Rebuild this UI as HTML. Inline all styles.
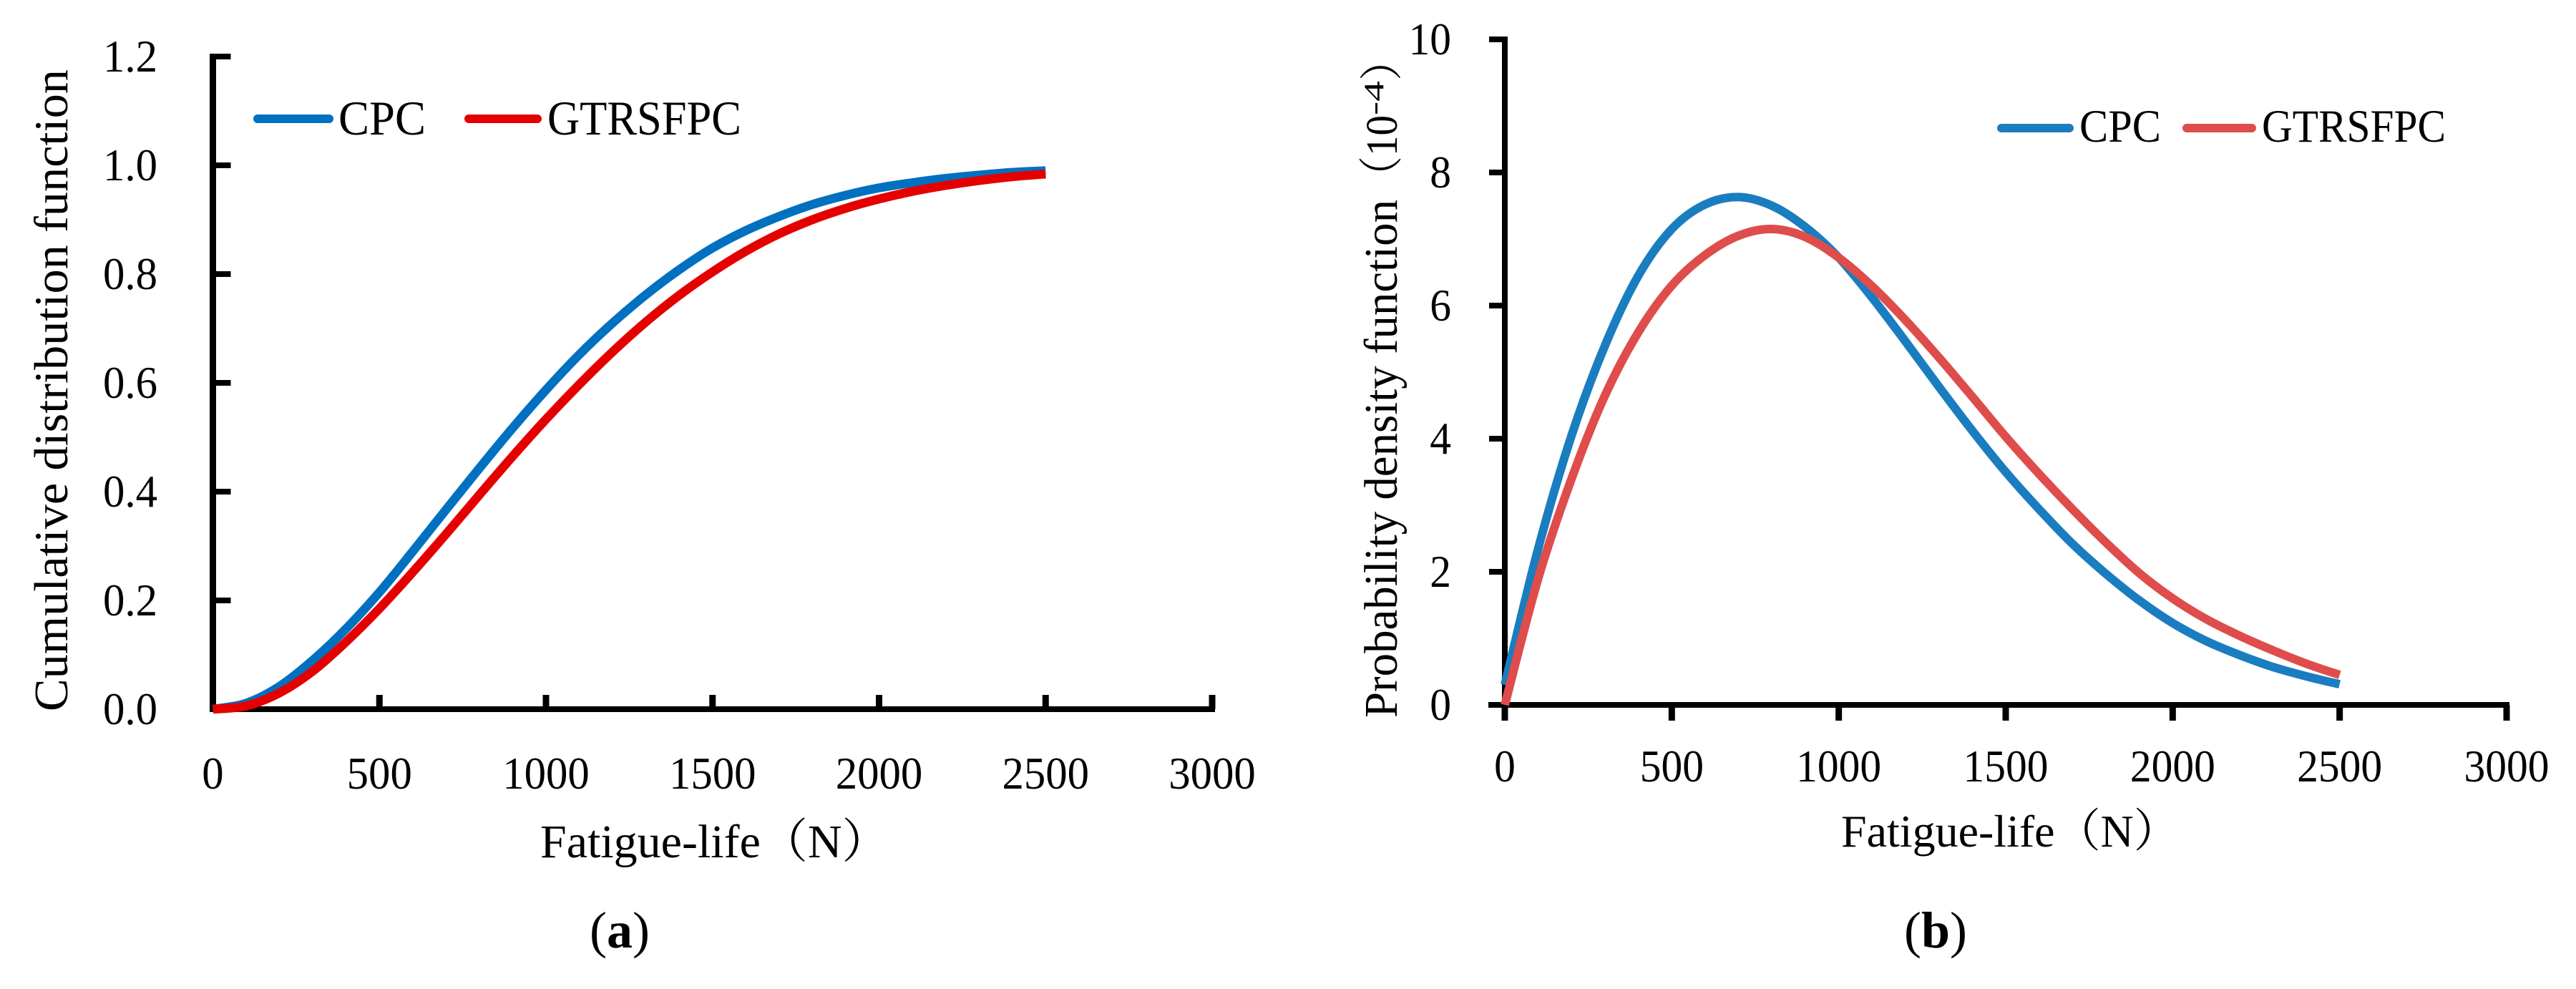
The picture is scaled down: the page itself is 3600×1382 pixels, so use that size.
<!DOCTYPE html>
<html lang="en">
<head>
<meta charset="utf-8">
<title>CPC and GTRSFPC fatigue-life distribution</title>
<style>
html,body{margin:0;padding:0;background:#fff;width:3600px;height:1382px;overflow:hidden}
svg{display:block}
text{font-family:"Liberation Serif","Noto Serif CJK SC",serif;fill:#000}
</style>
</head>
<body>
<svg id="figure" xmlns="http://www.w3.org/2000/svg" width="3600" height="1382" viewBox="0 0 3600 1382">
  <rect width="3600" height="1382" fill="#fff"/>

  <g id="chart-a"></g>
  <g id="chart-b"></g>

  <text x="0" y="0" transform="translate(94,994) rotate(-90)" font-size="67" textLength="897" lengthAdjust="spacingAndGlyphs">Cumulative distribution function</text>
  <text x="755" y="1198" font-size="66">Fatigue-life（N）</text>
  <text x="824" y="1324" font-size="72">(<tspan font-weight="bold">a</tspan>)</text>

  <line x1="360" y1="166" x2="460" y2="166" stroke="#0070C0" stroke-width="12" stroke-linecap="round"/>
  <text x="473" y="188" font-size="68" textLength="122" lengthAdjust="spacingAndGlyphs">CPC</text>
  <line x1="655" y1="166" x2="751" y2="166" stroke="#E50000" stroke-width="12" stroke-linecap="round"/>
  <text x="765" y="188" font-size="68" textLength="271" lengthAdjust="spacingAndGlyphs">GTRSFPC</text>

  <text x="0" y="0" transform="translate(1952,1003) rotate(-90)" font-size="66" textLength="724" lengthAdjust="spacingAndGlyphs">Probability density function</text>
  <text x="0" y="0" transform="translate(1952,275) rotate(-90)" font-size="62" textLength="114" lengthAdjust="spacingAndGlyphs">（10</text>
  <text x="0" y="0" transform="translate(1933,161) rotate(-90)" font-size="39" textLength="48" lengthAdjust="spacingAndGlyphs">-4</text>
  <text x="0" y="0" transform="translate(1952,113) rotate(-90)" font-size="60">）</text>
  <text x="2573" y="1183" font-size="64">Fatigue-life（N）</text>
  <text x="2661" y="1324" font-size="72">(<tspan font-weight="bold">b</tspan>)</text>

  <line x1="2797" y1="179" x2="2892" y2="179" stroke="#1A7DC0" stroke-width="12" stroke-linecap="round"/>
  <text x="2906" y="198" font-size="65" textLength="114" lengthAdjust="spacingAndGlyphs">CPC</text>
  <line x1="3056" y1="179" x2="3147" y2="179" stroke="#DE4D4B" stroke-width="12" stroke-linecap="round"/>
  <text x="3161" y="198" font-size="65" textLength="257" lengthAdjust="spacingAndGlyphs">GTRSFPC</text>
</svg>
<script>
var fatigueLife = [0,100,200,300,400,500,600,700,800,900,1000,1100,1200,1300,1400,1500,1600,1700,1800,1900,2000,2100,2200,2300,2400,2500];
var cdfCpc = [0,.011,.042,.09,.148,.215,.29,.367,.443,.517,.587,.652,.71,.762,.808,.848,.88,.906,.928,.945,.9585,.968,.976,.982,.987,.99];
var cdfGtrsfpc = [0,.006,.03,.07,.124,.185,.252,.322,.394,.465,.533,.597,.657,.712,.761,.804,.842,.874,.9,.921,.938,.952,.963,.972,.979,.984];
var pdfCpc = [.3,2.35,4.05,5.4,6.45,7.15,7.52,7.63,7.5,7.18,6.72,6.12,5.46,4.78,4.12,3.5,2.94,2.42,1.97,1.57,1.23,.96,.75,.57,.43,.31];
var pdfGtrsfpc = [0,1.9,3.4,4.65,5.6,6.3,6.76,7.05,7.15,7.03,6.72,6.29,5.78,5.22,4.63,4.03,3.47,2.94,2.44,1.98,1.6,1.29,1.04,.82,.62,.45];
var xTicks = [0,500,1000,1500,2000,2500,3000];
var cdfYTicks = ["0.0","0.2","0.4","0.6","0.8","1.0","1.2"];
var pdfYTicks = ["0","2","4","6","8","10"];

var NS = 'http://www.w3.org/2000/svg';
function make(tag, parent, attrs) {
  var el = document.createElementNS(NS, tag);
  for (var k in attrs) el.setAttribute(k, attrs[k]);
  parent.appendChild(el);
  return el;
}
function linear(d0, d1, r0, r1) {
  return function (v) { return r0 + (v - d0) * (r1 - r0) / (d1 - d0); };
}
function smooth(xs, ys, sx, sy) {
  var p = xs.map(function (x, i) { return [sx(x), sy(ys[i])]; });
  var d = 'M' + p[0][0].toFixed(2) + ' ' + p[0][1].toFixed(2);
  for (var i = 0; i < p.length - 1; i++) {
    var a = p[Math.max(i - 1, 0)], b = p[i], c = p[i + 1], e = p[Math.min(i + 2, p.length - 1)];
    d += 'C' + (b[0] + (c[0] - a[0]) / 6).toFixed(2) + ' ' + (b[1] + (c[1] - a[1]) / 6).toFixed(2) + ' ' +
         (c[0] - (e[0] - b[0]) / 6).toFixed(2) + ' ' + (c[1] - (e[1] - b[1]) / 6).toFixed(2) + ' ' +
         c[0].toFixed(2) + ' ' + c[1].toFixed(2);
  }
  return d;
}
function tickLabel(parent, str, x, y, anchor, size, squeeze) {
  var t = make('text', parent, {
    'font-size': size, 'text-anchor': anchor,
    transform: 'translate(' + x + ',' + y + ') scale(' + squeeze + ',1)'
  });
  t.textContent = str;
  return t;
}

/* panel (a) */
(function () {
  var g = document.getElementById('chart-a');
  var sx = linear(0, 3000, 297.5, 1694);
  var sy = linear(0, 1.2, 991, 79);
  var axX = make('line', g, { x1: 293, x2: 1698, y1: sy(0), y2: sy(0), stroke: '#000', 'stroke-width': 8 });
  
  
  var axY = make('line', g, { x1: sx(0), x2: sx(0), y1: sy(1.2) - 4, y2: sy(0) + 4, stroke: '#000', 'stroke-width': 9 });
  
  
  xTicks.forEach(function (v) {
    if (v > 0) {
      var tk = make('line', g, { x1: sx(v), x2: sx(v), y1: sy(0), y2: sy(0) - 20, stroke: '#000', 'stroke-width': 9 });
      
      
    }
    var lb = tickLabel(g, String(v), sx(v), 1102, 'middle', 64, 0.95);
    
    
  });
  cdfYTicks.forEach(function (s) {
    var v = parseFloat(s);
    var tk = make('line', g, { x1: sx(0), x2: sx(0) + 25, y1: sy(v), y2: sy(v), stroke: '#000', 'stroke-width': 8 });
    
    
    var lb = tickLabel(g, s, 220, sy(v) + 21, 'end', 64, 0.95);
    
    
  });
  var c1 = make('path', g, { d: smooth(fatigueLife, cdfCpc, sx, sy), fill: 'none', stroke: '#0070C0', 'stroke-width': 12.5 });
  
  
  var c2 = make('path', g, { d: smooth(fatigueLife, cdfGtrsfpc, sx, sy), fill: 'none', stroke: '#E50000', 'stroke-width': 12.5 });
  
  
})();

/* panel (b) */
(function () {
  var g = document.getElementById('chart-b');
  var sx = linear(0, 3000, 2103, 3503);
  var sy = linear(0, 10, 985, 55);
  var axX = make('line', g, { x1: 2080, x2: 3507, y1: sy(0), y2: sy(0), stroke: '#000', 'stroke-width': 8 });
  
  
  var axY = make('line', g, { x1: sx(0), x2: sx(0), y1: sy(10) - 4, y2: sy(0) + 4, stroke: '#000', 'stroke-width': 8 });
  
  
  xTicks.forEach(function (v) {
    var tk = make('line', g, { x1: sx(v), x2: sx(v), y1: sy(0), y2: sy(0) + 22, stroke: '#000', 'stroke-width': 9 });
    
    
    var lb = tickLabel(g, String(v), sx(v), 1092, 'middle', 64, 0.93);
    
    
  });
  pdfYTicks.forEach(function (s) {
    var v = parseFloat(s);
    var tk = make('line', g, { x1: sx(0) - 22, x2: sx(0), y1: sy(v), y2: sy(v), stroke: '#000', 'stroke-width': 8 });
    
    
    var lb = tickLabel(g, s, 2028, sy(v) + 21, 'end', 64, 0.93);
    
    
  });
  var c1 = make('path', g, { d: smooth(fatigueLife, pdfCpc, sx, sy), fill: 'none', stroke: '#1A7DC0', 'stroke-width': 12 });
  
  
  var c2 = make('path', g, { d: smooth(fatigueLife, pdfGtrsfpc, sx, sy), fill: 'none', stroke: '#DE4D4B', 'stroke-width': 12 });
  
  
})();
</script>
</body>
</html>
